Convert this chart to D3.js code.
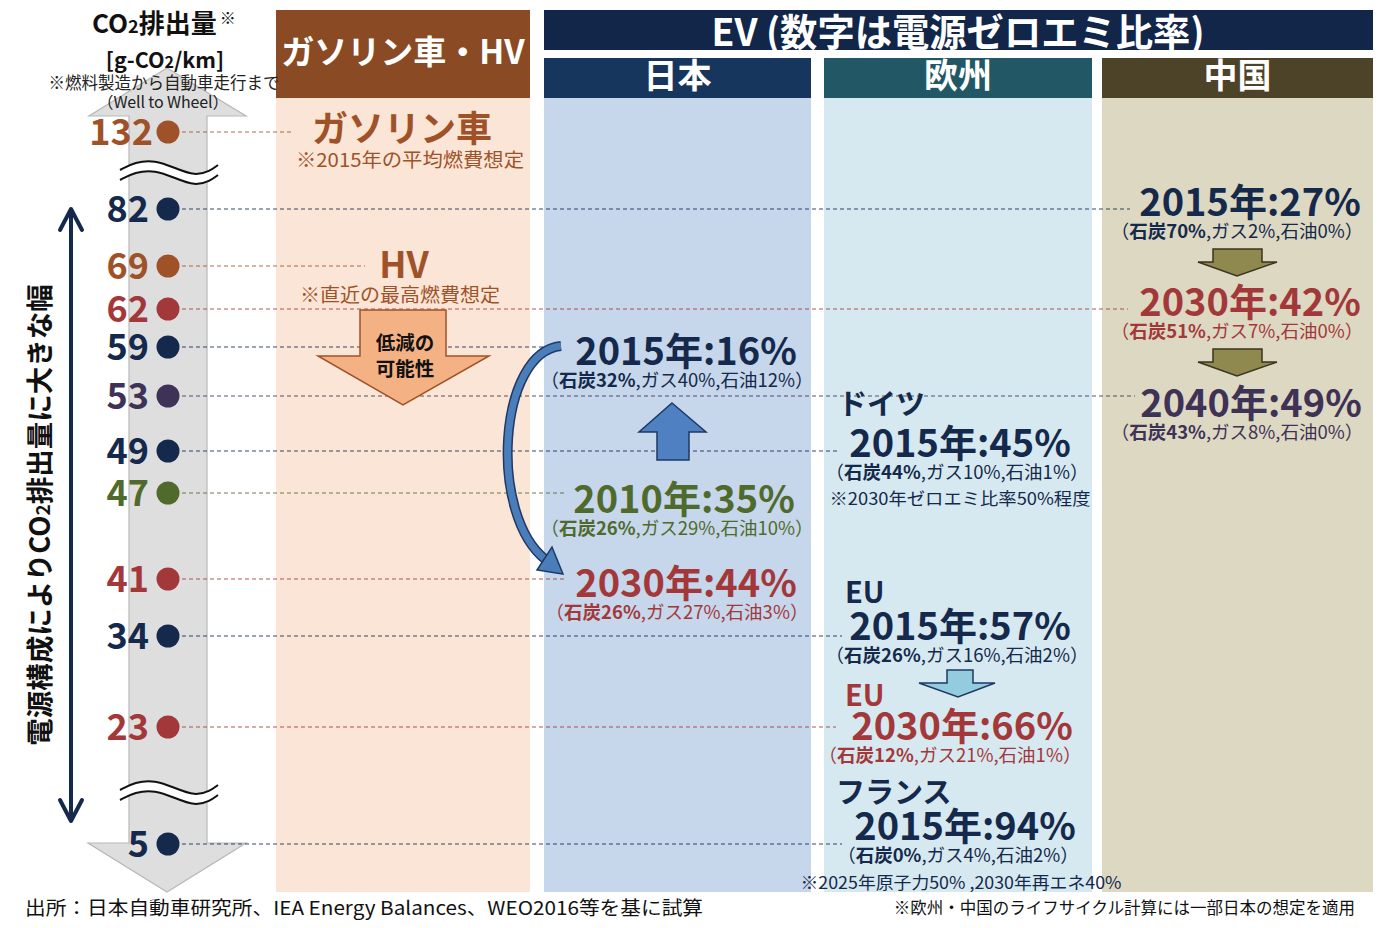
<!DOCTYPE html>
<html><head><meta charset="utf-8">
<script src="https://cdn.jsdelivr.net/npm/d3@7"></script>
<style>
body{margin:0;background:#fff}
svg{display:block}
text{font-family:"Noto Sans CJK JP","Noto Sans",sans-serif}
</style></head>
<body><svg id="c" width="1380" height="928"></svg>
<script>
// ---------------- DATA ----------------
const caseIds      = ["gas","hv","jp2015","jp2010","jp2030","de2015","eu2015","eu2030","fr2015","cn2015","cn2030","cn2040"];
const caseRegion   = ["ガソリン車・HV","ガソリン車・HV","日本","日本","日本","欧州","欧州","欧州","欧州","中国","中国","中国"];
const caseName     = ["ガソリン車","HV",null,null,null,"ドイツ","EU","EU","フランス",null,null,null];
const caseCO2      = [132,69,59,47,41,49,34,23,5,82,62,53];
const caseYear     = [null,null,2015,2010,2030,2015,2015,2030,2015,2015,2030,2040];
const caseZeroEmi  = [null,null,16,35,44,45,57,66,94,27,42,49];
const caseCoal     = [null,null,32,26,26,44,26,12,0,70,51,43];
const caseGas      = [null,null,40,29,27,10,16,21,4,2,7,8];
const caseOil      = [null,null,12,10,3,1,2,1,2,0,0,0];
const caseNote     = ["※2015年の平均燃費想定","※直近の最高燃費想定",null,null,null,"※2030年ゼロエミ比率50%程度",null,null,"※2025年原子力50% ,2030年再エネ40%",null,null,null];
const axisTicks    = [132,82,69,62,59,53,49,47,41,34,23,5];
const regions      = ["日本","欧州","中国"];

// ---------------- STYLE / LAYOUT ----------------
const C = {navy:"#14294b", brown:"#9f5228", red:"#a3383a", green:"#4f6a2b", purple:"#3f3257"};
const caseColor = {gas:C.brown,hv:C.brown,jp2015:C.navy,jp2010:C.green,jp2030:C.red,de2015:C.navy,eu2015:C.navy,eu2030:C.red,fr2015:C.navy,cn2015:C.navy,cn2030:C.red,cn2040:C.purple};
// non-linear (broken) axis: piecewise linear scale
const axisRowY = [132,209,266,309,347,396,451,493,579,636,727,844];
const y = d3.scaleLinear().domain(axisTicks).range(axisRowY);

const colX = d3.scaleOrdinal().domain(["ガソリン車・HV",...regions]).range([276,544,824,1102]);
const colW = d3.scaleOrdinal().domain(["ガソリン車・HV",...regions]).range([254,267,268,271]);
const colBody = {"ガソリン車・HV":"#fbe5d6","日本":"#c6d6eb","欧州":"#d7e9f0","中国":"#ddd8c2"};
const colHead = {"ガソリン車・HV":"#8a4a24","日本":"#17365e","欧州":"#225865","中国":"#4c4329"};

// label layout per case
const lay = {
  gas:{cx:402,dy:10,end:293,nx:410,ndy:35,fs:36,nw:228},
  hv:{cx:404,dy:12,end:365,nx:400,ndy:34,fs:36,nw:200},
  jp2015:{cx:686,dy:18,end:557,bx:677},
  jp2010:{cx:684,dy:20,end:567,bx:677},
  jp2030:{cx:686,dy:18,end:565,bx:677},
  de2015:{cx:960,dy:6,end:840,bx:957,sx:838,sdy:-42,ndy:48,nw:261},
  eu2015:{cx:960,dy:4,end:842,bx:957,sx:845,sdy:-37},
  eu2030:{cx:962,dy:13,end:836,bx:950,sx:845,sdy:-34},
  fr2015:{cx:965,dy:-4,end:842,bx:958,sx:836,sdy:-37,ndy:49,nw:321},
  cn2015:{cx:1250,dy:7,end:1130,bx:1237},
  cn2030:{cx:1250,dy:7,end:1128,bx:1237},
  cn2040:{cx:1251,dy:21,end:1135,bx:1237}
};

const svg = d3.select("#c");
const cases = caseIds.map((id,i)=>({id,region:caseRegion[i],name:caseName[i],co2:caseCO2[i],year:caseYear[i],ze:caseZeroEmi[i],coal:caseCoal[i],gas:caseGas[i],oil:caseOil[i],note:caseNote[i]}));

// ---------------- COLUMNS ----------------
const cols = ["ガソリン車・HV",...regions];
svg.selectAll("rect.body").data(cols).join("rect")
  .attr("x",d=>colX(d)).attr("y",98).attr("width",d=>colW(d)).attr("height",794)
  .attr("fill",d=>colBody[d]);
svg.append("rect").attr("x",276).attr("y",10).attr("width",254).attr("height",88).attr("fill",colHead["ガソリン車・HV"]);
svg.append("text").attr("x",403).attr("y",64).attr("text-anchor","middle").attr("fill","#fff")
  .attr("font-size",33).attr("font-weight",700).text("ガソリン車・HV");
svg.append("rect").attr("x",544).attr("y",10).attr("width",829).attr("height",40).attr("fill","#12264a");
svg.append("text").attr("x",958).attr("y",46).attr("text-anchor","middle").attr("fill","#fff")
  .attr("font-size",38).attr("font-weight",700).attr("textLength",493).attr("lengthAdjust","spacingAndGlyphs")
  .text("EV (数字は電源ゼロエミ比率)");
svg.selectAll("rect.head").data(regions).join("rect")
  .attr("x",d=>colX(d)).attr("y",58).attr("width",d=>colW(d)).attr("height",40).attr("fill",d=>colHead[d]);
svg.selectAll("text.head").data(regions).join("text")
  .attr("x",d=>colX(d)+colW(d)/2).attr("y",88).attr("text-anchor","middle").attr("fill","#fff")
  .attr("font-size",34).attr("font-weight",700).text(d=>d);

// ---------------- LEFT GREY DOUBLE ARROW ----------------
svg.append("path")
  .attr("d",d3.line()([[167,68],[246,116],[207,116],[207,843],[246,843],[167,892],[88,843],[129,843],[129,116],[89,116]])+"Z")
  .attr("fill","#dedede").attr("stroke","#b8b8b8").attr("stroke-width",1.2);

// ---------------- DASHED GUIDE LINES ----------------
svg.selectAll("line.guide").data(cases).join("line")
  .attr("x1",168).attr("x2",d=>lay[d.id].end)
  .attr("y1",d=>y(d.co2)).attr("y2",d=>y(d.co2))
  .attr("stroke",d=>caseColor[d.id]).attr("stroke-opacity",0.85)
  .attr("stroke-width",1).attr("stroke-dasharray","4,3");

// ---------------- AXIS BREAK SYMBOLS ----------------
const wave = d3.line().curve(d3.curveBasis);
[170,790].forEach(cy=>{
  const top = [[120,cy],[135,cy-8],[155,cy-10],[175,cy-2],[195,cy+6],[210,cy+1],[218,cy-5]];
  const bot = top.map(([x,yy])=>[x,yy+10]);
  svg.append("path").attr("d",wave(top)+"L"+wave(bot.slice().reverse()).slice(1)+"Z").attr("fill","#fff").attr("stroke","none");
  svg.append("path").attr("d",wave(top)).attr("fill","none").attr("stroke","#111").attr("stroke-width",2);
  svg.append("path").attr("d",wave(bot)).attr("fill","none").attr("stroke","#111").attr("stroke-width",2);
});

// ---------------- DOTS + TICK LABELS ----------------
const tickColor = v => caseColor[cases.find(c=>c.co2===v).id];
svg.selectAll("circle.dot").data(axisTicks).join("circle")
  .attr("cx",168).attr("cy",d=>y(d)).attr("r",11.5).attr("fill",tickColor);
svg.selectAll("text.tick").data(axisTicks).join("text")
  .attr("x",d=>d>=100?153:149).attr("y",d=>y(d)).attr("dy","0.36em").attr("text-anchor","end")
  .attr("font-size",36).attr("font-weight",700).attr("fill",tickColor).text(d=>d);

// ---------------- LEFT TITLES ----------------
const t1 = svg.append("text").attr("x",92).attr("y",33).attr("font-size",26).attr("font-weight",700).attr("fill","#111");
t1.append("tspan").text("CO");
t1.append("tspan").attr("font-size",18).text("2");
t1.append("tspan").text("排出量");
t1.append("tspan").attr("font-size",16).attr("dy",-9).attr("dx",3).text("※");
const t2 = svg.append("text").attr("x",165).attr("y",68).attr("text-anchor","middle").attr("font-size",21.5).attr("font-weight",700).attr("fill","#111");
t2.append("tspan").text("[g-CO");
t2.append("tspan").attr("font-size",16).text("2");
t2.append("tspan").text("/km]");
svg.append("text").attr("x",164).attr("y",89).attr("text-anchor","middle").attr("font-size",16.5).attr("fill","#222").text("※燃料製造から自動車走行まで");
svg.append("text").attr("x",163).attr("y",108).attr("text-anchor","middle").attr("font-size",16).attr("fill","#222")
  .attr("textLength",131).attr("lengthAdjust","spacing").text("（Well to Wheel）");

// vertical navy double arrow
svg.append("line").attr("x1",71).attr("x2",71).attr("y1",210).attr("y2",820).attr("stroke",C.navy).attr("stroke-width",4);
svg.append("path").attr("d","M60,230L71,209L82,230").attr("fill","none").attr("stroke",C.navy).attr("stroke-width",4).attr("stroke-linecap","round").attr("stroke-linejoin","round");
svg.append("path").attr("d","M60,800L71,821L82,800").attr("fill","none").attr("stroke",C.navy).attr("stroke-width",4).attr("stroke-linecap","round").attr("stroke-linejoin","round");
const vt = svg.append("text").attr("transform","translate(50,515) rotate(-90)").attr("text-anchor","middle")
  .attr("font-size",27.5).attr("font-weight",700).attr("fill","#111");
vt.append("tspan").text("電源構成によりCO");
vt.append("tspan").attr("font-size",19).text("2");
vt.append("tspan").text("排出量に大きな幅");

// ---------------- ARROWS IN COLUMNS ----------------
const poly = pts => d3.line()(pts)+"Z";
svg.append("path").attr("d",poly([[360,310],[446,310],[446,356],[489,356],[403,405],[318,356],[360,356]]))
  .attr("fill","#f4b183").attr("stroke","#9f5228").attr("stroke-width",1.5);
svg.append("text").attr("x",405).attr("y",350).attr("text-anchor","middle").attr("font-size",19.5).attr("font-weight",700).attr("fill","#111").text("低減の");
svg.append("text").attr("x",405).attr("y",376).attr("text-anchor","middle").attr("font-size",19.5).attr("font-weight",700).attr("fill","#111").text("可能性");
svg.append("path").attr("d",poly([[672,403],[706,432],[689,432],[689,460],[657,460],[657,432],[639,432]]))
  .attr("fill","#4f81c2").attr("stroke","#1f3864").attr("stroke-width",1.5);
const curve = "M561,346 C498,352 488,515 546,560";
svg.append("path").attr("d",curve).attr("fill","none").attr("stroke","#1f3864").attr("stroke-width",10).attr("stroke-linecap","butt");
svg.append("path").attr("d",curve).attr("fill","none").attr("stroke","#4a7ebb").attr("stroke-width",7).attr("stroke-linecap","butt");
svg.append("path").attr("d",poly([[537,570],[552,547],[563,574]])).attr("fill","#4a7ebb").attr("stroke","#1f3864").attr("stroke-width",1.5);
svg.append("path").attr("d",poly([[947,670],[973,670],[973,683],[995,683],[958,697],[919,683],[947,683]]))
  .attr("fill","#93cddd").attr("stroke","#1f3864").attr("stroke-width",1.5);
[249,349].forEach(t=>{
  svg.append("path").attr("d",poly([[1213,t],[1262,t],[1262,t+13],[1277,t+13],[1237,t+27],[1198,t+13],[1213,t+13]]))
    .attr("fill","#8f894f").attr("stroke","#3b3520").attr("stroke-width",1.5);
});

// ---------------- CASE TEXTS ----------------
cases.forEach(d=>{
  const L = lay[d.id], col = caseColor[d.id], base = y(d.co2)+L.dy;
  if (d.ze===null){
    svg.append("text").attr("x",L.cx).attr("y",base).attr("text-anchor","middle").attr("font-size",L.fs)
      .attr("font-weight",700).attr("fill",col).text(d.name);
    svg.append("text").attr("x",L.nx).attr("y",base+L.ndy-10).attr("text-anchor","middle").attr("font-size",19)
      .attr("textLength",L.nw).attr("lengthAdjust","spacingAndGlyphs").attr("fill",col).text(d.note);
    return;
  }
  if (d.name){
    svg.append("text").attr("x",L.sx).attr("y",base+L.sdy).attr("font-size",29).attr("font-weight",700).attr("fill",col).text(d.name);
  }
  svg.append("text").attr("x",L.cx).attr("y",base).attr("text-anchor","middle").attr("font-size",38)
    .attr("font-weight",700).attr("fill",col).text(`${d.year}年:${d.ze}%`);
  const b = svg.append("text").attr("x",L.bx).attr("y",base+22).attr("text-anchor","middle").attr("font-size",18.5).attr("fill",col);
  b.append("tspan").text("（");
  b.append("tspan").attr("font-weight",700).text(`石炭${d.coal}%`);
  b.append("tspan").text(`,ガス${d.gas}%,石油${d.oil}%）`);
  if (d.note){
    svg.append("text").attr("x",L.bx+3).attr("y",base+L.ndy).attr("text-anchor","middle").attr("font-size",17)
      .attr("textLength",L.nw).attr("lengthAdjust","spacingAndGlyphs").attr("fill",col).text(d.note);
  }
});

// ---------------- FOOTER ----------------
svg.append("text").attr("x",25).attr("y",915).attr("font-size",19).attr("fill","#111")
  .attr("textLength",678).attr("lengthAdjust","spacingAndGlyphs")
  .text("出所：日本自動車研究所、IEA Energy Balances、WEO2016等を基に試算");
svg.append("text").attr("x",1355).attr("y",914).attr("text-anchor","end").attr("font-size",16.5).attr("fill","#111")
  .text("※欧州・中国のライフサイクル計算には一部日本の想定を適用");
</script></body></html>
